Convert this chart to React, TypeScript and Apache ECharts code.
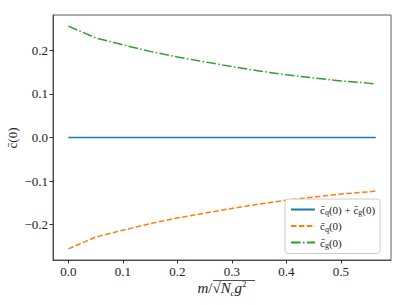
import React, { useEffect, useRef } from "react";
import * as echarts from "echarts";

const xValues = [0, 0.05, 0.1, 0.15, 0.2, 0.25, 0.3, 0.35, 0.4, 0.45, 0.5, 0.55, 0.564];
const gluonValues = [0.256, 0.229, 0.213, 0.198, 0.185, 0.174, 0.163, 0.153, 0.144, 0.137, 0.13, 0.125, 0.123];
const quarkValues = [-0.256, -0.229, -0.213, -0.198, -0.185, -0.174, -0.163, -0.153, -0.144, -0.137, -0.13, -0.125, -0.123];
const sumValues = [0, 0, 0, 0, 0, 0, 0, 0, 0, 0, 0, 0, 0];
const xTicks = [0, 0.1, 0.2, 0.3, 0.4, 0.5];
const yTicks = [-0.2, -0.1, 0, 0.1, 0.2];

const FONT = "Liberation Serif";

const fmt = (v: number) => {
  const s = Math.abs(v).toFixed(1);
  return v < -1e-9 ? "\u2212" + s : s;
};

const legendNames: Record<string, string> = {
  sum: "{c|c\u0304}{s|q}{c|(0) + }{c|c\u0304}{s|g}{c|(0)}",
  q: "{c|c\u0304}{s|q}{c|(0)}",
  g: "{c|c\u0304}{s|g}{c|(0)}",
};

export default function App() {
  const ref = useRef<HTMLDivElement>(null);
  useEffect(() => {
    if (!ref.current) return;
    const chart = echarts.init(ref.current, null, { renderer: "svg" });
    const pairs = (ys: number[]) => xValues.map((x, i) => [x, ys[i]]);
    chart.setOption({
      animation: false,
      backgroundColor: "#ffffff",
      textStyle: { fontFamily: FONT },
      grid: {
        left: 53,
        right: 16,
        top: 15,
        bottom: 45,
        show: true,
        borderColor: "#333",
        borderWidth: 0.8,
      },
      xAxis: {
        type: "value",
        min: -0.0282,
        max: 0.592,
        axisLine: { show: true, onZero: false, lineStyle: { color: "#333", width: 0.8 } },
        axisTick: { show: true, inside: false, length: 3.5, lineStyle: { color: "#333" }, customValues: xTicks },
        axisLabel: {
          show: true,
          customValues: xTicks,
          formatter: (v: number) => fmt(v),
          fontFamily: FONT,
          fontSize: 13,
          color: "#222",
          margin: 5,
        },
        splitLine: { show: false },
      },
      yAxis: {
        type: "value",
        min: -0.2816,
        max: 0.2816,
        axisLine: { show: true, onZero: false, lineStyle: { color: "#333", width: 0.8 } },
        axisTick: { show: true, inside: false, length: 3.5, lineStyle: { color: "#333" }, customValues: yTicks },
        axisLabel: {
          show: true,
          customValues: yTicks,
          formatter: (v: number) => fmt(v),
          fontFamily: FONT,
          fontSize: 13,
          color: "#222",
          margin: 5,
        },
        splitLine: { show: false },
      },
      legend: {
        orient: "vertical",
        left: 285,
        top: 199,
        padding: [5, 5, 4, 5],
        itemWidth: 24,
        itemHeight: 10,
        itemGap: 4,
        backgroundColor: "#fff",
        borderColor: "#ccc",
        borderWidth: 1,
        borderRadius: 3,
        data: ["sum", "q", "g"],
        itemStyle: { opacity: 0 },
        formatter: (name: string) => legendNames[name],
        textStyle: {
          fontFamily: FONT,
          fontSize: 11,
          color: "#222",
          rich: {
            c: { fontFamily: FONT, fontSize: 11, lineHeight: 14, verticalAlign: "middle", color: "#222" },
            s: { fontFamily: FONT, fontSize: 8, lineHeight: 8, verticalAlign: "bottom", color: "#222" },
          },
        },
      },
      series: [
        {
          name: "sum",
          type: "line",
          data: pairs(sumValues),
          symbol: "none",
          lineStyle: { color: "#1f77b4", width: 1.5 },
          itemStyle: { color: "#1f77b4" },
        },
        {
          name: "q",
          type: "line",
          data: pairs(quarkValues),
          symbol: "none",
          lineStyle: { color: "#ff7f0e", width: 1.5, type: [5.5, 2.4] },
          itemStyle: { color: "#ff7f0e" },
        },
        {
          name: "g",
          type: "line",
          data: pairs(gluonValues),
          symbol: "none",
          lineStyle: { color: "#2ca02c", width: 1.5, type: [9.6, 2.4, 1.5, 2.4] },
          itemStyle: { color: "#2ca02c" },
        },
      ],
      graphic: [
        {
          type: "text",
          x: 12,
          y: 138,
          rotation: Math.PI / 2,
          style: {
            text: "c\u0304(0)",
            fontFamily: FONT,
            fontSize: 13,
            fill: "#222",
            align: "center",
            verticalAlign: "middle",
          },
        },
        {
          type: "text",
          x: 222,
          y: 288,
          style: {
            text: "{i|m}{n|/\u221A}{i|N}{s|c}{i|g}{p|2}",
            align: "center",
            verticalAlign: "middle",
            rich: {
              i: { fontFamily: FONT, fontStyle: "italic", fontSize: 15, lineHeight: 18, verticalAlign: "middle", fill: "#222" },
              n: { fontFamily: FONT, fontSize: 15, lineHeight: 18, verticalAlign: "middle", fill: "#222" },
              s: { fontFamily: FONT, fontStyle: "italic", fontSize: 9, lineHeight: 9, verticalAlign: "bottom", fill: "#222" },
              p: { fontFamily: FONT, fontSize: 9, lineHeight: 9, verticalAlign: "top", fill: "#222" },
            },
          },
        },
        {
          type: "line",
          shape: { x1: 213, y1: 280.5, x2: 255, y2: 280.5 },
          style: { stroke: "#222", lineWidth: 0.8 },
        },
      ],
    });
    return () => chart.dispose();
  }, []);
  return (
    <div
      ref={ref}
      style={{ position: "fixed", left: 0, top: 0, width: 407, height: 305 }}
    />
  );
}
